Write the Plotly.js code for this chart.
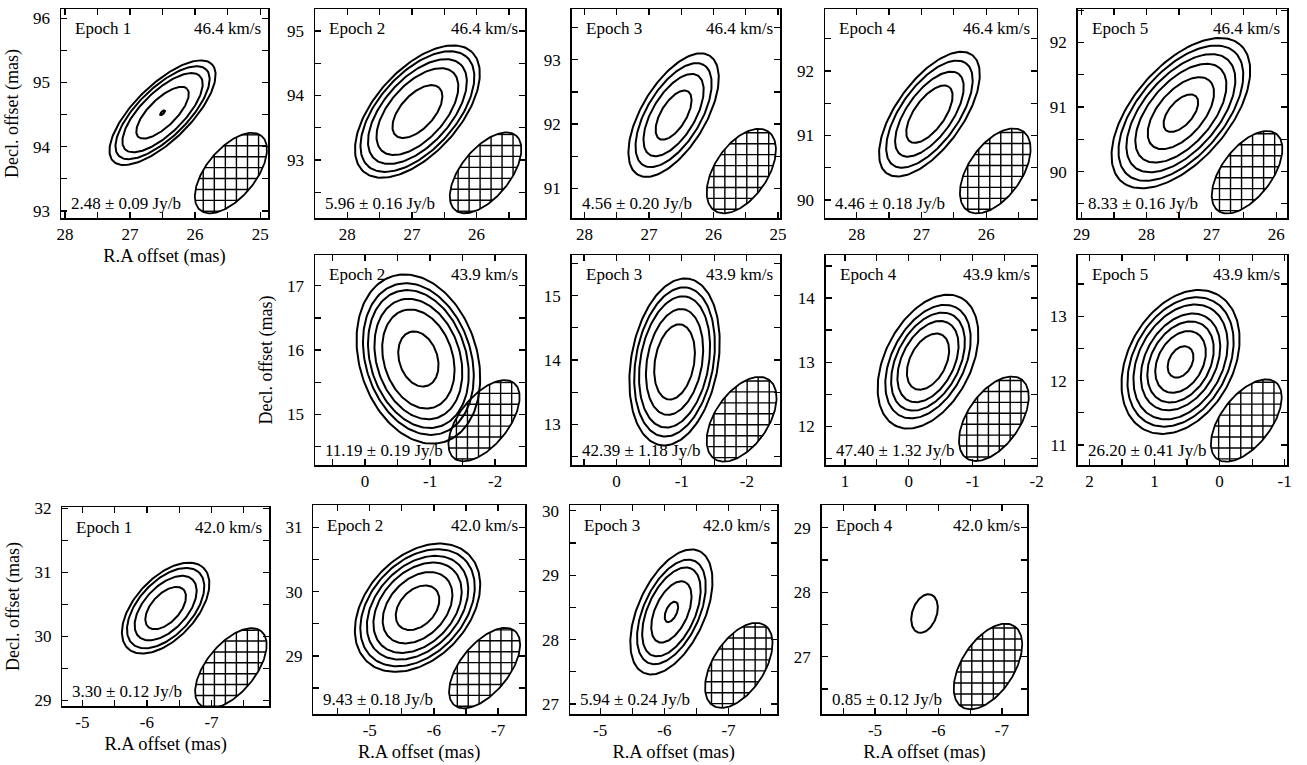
<!DOCTYPE html>
<html><head><meta charset="utf-8">
<script src="https://cdn.plot.ly/plotly-3.0.1.min.js"></script>
<style>html,body{margin:0;padding:0;background:#fff}#chart{width:1307px;height:765px}</style>
</head><body><div id="chart"></div>
<script>
// ---------------- data ----------------
const epochs     = [1, 2, 3, 4, 5,   2, 3, 4, 5,   1, 2, 3, 4];
const velocities = [46.4, 46.4, 46.4, 46.4, 46.4,  43.9, 43.9, 43.9, 43.9,  42.0, 42.0, 42.0, 42.0];
const peakFlux   = [2.48, 5.96, 4.56, 4.46, 8.33,  11.19, 42.39, 47.40, 26.20,  3.30, 9.43, 5.94, 0.85];
const peakErr    = [0.09, 0.16, 0.20, 0.18, 0.16,  0.19, 1.18, 1.32, 0.41,  0.12, 0.18, 0.24, 0.12];
// axis ranges (R.A. increases to the left)
const raRange  = [[28.06,24.88],[28.5,25.25],[28.2,24.97],[28.49,25.22],[29.06,25.83],
                  [0.77,-2.46],[0.69,-2.51],[1.30,-2.0],[2.18,-1.04],
                  [-4.69,-7.89],[-4.12,-7.42],[-4.53,-7.76],[-4.16,-7.40]];
const decRange = [[92.89,96.145],[92.10,95.34],[90.54,93.79],[89.72,92.96],[89.28,92.52],
                  [14.21,17.48],[12.37,15.63],[11.40,14.67],[10.69,13.95],
                  [28.91,32.02],[28.09,31.35],[26.84,30.09],[26.11,29.35]];
// maser spot: centre (mas), position angle of major axis (deg), axis ratio, contour semi-major axes (mas)
const srcRA    = [26.50, 26.915, 26.62, 26.877, 27.47,  -0.82, -0.89, -0.30, 0.60,  -6.29, -5.745, -6.11, -5.78];
const srcDec   = [94.53, 93.75, 92.14, 91.33, 90.905,  15.86, 13.97, 13.01, 12.29,  30.44, 29.75, 28.43, 27.67];
const srcPA    = [45, 48, 59, 54.5, 49.4,  107, 80.4, 62.7, 62,  47.6, 46.8, 65.5, 70];
const srcRatio = [0.40, 0.52, 0.46, 0.455, 0.525,  0.67, 0.51, 0.60, 0.68,  0.55, 0.69, 0.50, 0.62];
const contourMajor = [
  [1.07, 0.95, 0.81, 0.53, 0.05],
  [1.25, 1.14, 0.99, 0.82, 0.50],
  [1.08, 0.91, 0.72, 0.43],
  [1.13, 0.97, 0.77, 0.52],
  [1.40, 1.26, 1.10, 0.92, 0.67, 0.35],
  [1.35, 1.21, 1.10, 0.96, 0.79, 0.44],
  [1.31, 1.17, 1.03, 0.83, 0.59],
  [1.12, 0.95, 0.82, 0.68, 0.47],
  [1.19, 1.07, 0.95, 0.80, 0.67, 0.51, 0.26],
  [0.86, 0.76, 0.61, 0.40],
  [1.15, 1.05, 0.93, 0.81, 0.64, 0.40],
  [1.04, 0.87, 0.74, 0.51, 0.17],
  [0.31]
];
// synthesized beam
const beamRA    = [25.45, 25.86, 25.57, 25.86, 26.45,  -1.83, -1.92, -1.33, -0.41,  -7.30, -6.79, -7.16, -6.78];
const beamDec   = [93.59, 92.80, 91.27, 90.45, 89.99,  14.90, 13.08, 12.12, 11.38,  29.50, 28.81, 27.60, 26.85];
const beamMajor = [0.746, 0.746, 0.743, 0.75, 0.746,  0.746, 0.743, 0.75, 0.746,  0.746, 0.746, 0.743, 0.75];
const beamMinor = [0.378, 0.378, 0.41, 0.41, 0.385,  0.378, 0.41, 0.41, 0.385,  0.378, 0.378, 0.40, 0.41];
const beamPA    = [51, 51, 56, 55, 53,  52, 56, 55, 53,  51, 51, 57, 56];
const hatchStep = 0.17; // mas between hatch lines

// ---------------- layout geometry (pixels in the 1307x765 page) ----------------
const W = 1307, H = 765;
const boxes = [ // [left, top, right, bottom]
  [61, 9, 268, 218], [315, 9, 525, 218], [571.7, 9, 780, 218], [825, 9, 1036.7, 218], [1077.7, 9, 1287.3, 218],
  [315, 255, 525, 465], [571.7, 255, 780, 465], [825.7, 255, 1036.7, 465], [1077.7, 255, 1287.3, 465],
  [62.3, 507, 269, 706], [313.3, 505, 525, 714.3], [570, 505, 777.3, 714.3], [821.7, 505, 1027.3, 714.3]
];
const xTitleOn = [0, 9, 10, 11, 12];
const yTitleOn = [0, 5, 9];
const FONT = 'Liberation Serif, Times New Roman, Times, serif';

function ellipse(cx, cy, a, b, paDeg, n) {
  const p = paDeg * Math.PI / 180, xs = [], ys = [];
  for (let k = 0; k <= n; k++) {
    const t = 2 * Math.PI * k / n;
    const u = a * Math.cos(t) * Math.cos(p) - b * Math.sin(t) * Math.sin(p);
    const v = a * Math.cos(t) * Math.sin(p) + b * Math.sin(t) * Math.cos(p);
    xs.push(cx - u);  // screen-right is decreasing R.A.
    ys.push(cy + v);
  }
  return {x: xs, y: ys};
}
// cross-hatch segments clipped to the beam ellipse (u: screen-right, v: up)
function hatch(cx, cy, a, b, paDeg, step) {
  const p = paDeg * Math.PI / 180, c = Math.cos(p), s = Math.sin(p);
  const ia = 1 / (a * a), ib = 1 / (b * b);
  const Auu = c * c * ia + s * s * ib, Avv = s * s * ia + c * c * ib, Buv = 2 * c * s * (ia - ib);
  const xs = [], ys = [];
  const solve = (A, B, C) => { const d = B * B - 4 * A * C; if (d <= 0) return null; const r = Math.sqrt(d); return [(-B - r) / (2 * A), (-B + r) / (2 * A)]; };
  for (let k = -12; k <= 12; k++) {
    const q = (k + 0.5) * step;
    let r = solve(Avv, Buv * q, Auu * q * q - 1);          // vertical line u = q
    if (r) { xs.push(cx - q, cx - q, null); ys.push(cy + r[0], cy + r[1], null); }
    r = solve(Auu, Buv * q, Avv * q * q - 1);              // horizontal line v = q
    if (r) { xs.push(cx - r[0], cx - r[1], null); ys.push(cy + q, cy + q, null); }
  }
  return {x: xs, y: ys};
}

const traces = [], annotations = [];
const layout = {
  width: W, height: H, margin: {l: 0, r: 0, t: 0, b: 0},
  paper_bgcolor: '#fff', plot_bgcolor: '#fff', showlegend: false,
  font: {family: FONT, size: 17, color: '#000'}, annotations: annotations
};

for (let i = 0; i < epochs.length; i++) {
  const sfx = i === 0 ? '' : String(i + 1);
  const xid = 'x' + sfx, yid = 'y' + sfx;
  const [l, t, r, b] = boxes[i];
  const wpx = r - l, hpx = b - t;

  const mkTicks = rng => {
    const lo = Math.ceil(Math.min(rng[0], rng[1]) - 1e-9), hi = Math.floor(Math.max(rng[0], rng[1]) + 1e-9);
    const vals = [];
    for (let v = lo; v <= hi; v++) vals.push(v);
    return {vals: vals, text: vals.map(v => String(v))};
  };
  const xt = mkTicks(raRange[i]), yt = mkTicks(decRange[i]);
  const common = {
    showline: true, linecolor: '#000', linewidth: 1.5, mirror: 'allticks',
    ticks: 'inside', ticklen: 6, tickwidth: 1.3, tickcolor: '#000',
    showgrid: false, zeroline: false, fixedrange: true,
    tickfont: {family: FONT, size: 17, color: '#000'},
    minor: {dtick: 0.5, tick0: 0, ticks: 'inside', ticklen: 6, tickwidth: 1.3, tickcolor: '#000', showgrid: false}
  };
  layout['xaxis' + sfx] = Object.assign({}, common, {
    domain: [l / W, r / W], range: raRange[i], anchor: yid,
    tickmode: 'array', tickvals: xt.vals, ticktext: xt.text, ticklabelstandoff: 0,
    title: xTitleOn.includes(i) ? {text: 'R.A offset (mas)', font: {family: FONT, size: 18.5, color: '#000'}, standoff: 6} : {text: ''}
  });
  layout['yaxis' + sfx] = Object.assign({}, common, {
    domain: [1 - b / H, 1 - t / H], range: decRange[i], anchor: xid,
    tickmode: 'array', tickvals: yt.vals, ticktext: yt.text, ticklabelstandoff: 6,
    title: yTitleOn.includes(i) ? {text: 'Decl. offset (mas)', font: {family: FONT, size: 18, color: '#000'}, standoff: 10} : {text: ''}
  });

  // contours
  const cx = [], cy = [];
  contourMajor[i].forEach(a => {
    const e = ellipse(srcRA[i], srcDec[i], a, a * srcRatio[i], srcPA[i], 160);
    cx.push(...e.x, null); cy.push(...e.y, null);
  });
  traces.push({type: 'scatter', mode: 'lines', x: cx, y: cy, xaxis: xid, yaxis: yid,
    line: {color: '#000', width: 2}, hoverinfo: 'skip'});

  // beam: outline + cross-hatching
  const hh = hatch(beamRA[i], beamDec[i], beamMajor[i], beamMinor[i], beamPA[i], hatchStep);
  traces.push({type: 'scatter', mode: 'lines', x: hh.x, y: hh.y, xaxis: xid, yaxis: yid,
    line: {color: '#000', width: 1.4}, hoverinfo: 'skip'});
  const be = ellipse(beamRA[i], beamDec[i], beamMajor[i], beamMinor[i], beamPA[i], 160);
  traces.push({type: 'scatter', mode: 'lines', x: be.x, y: be.y, xaxis: xid, yaxis: yid,
    line: {color: '#000', width: 1.8}, hoverinfo: 'skip'});

  const dx = xid + ' domain', dy = yid + ' domain';
  annotations.push({xref: dx, yref: dy, x: 12 / wpx, y: 1 - 20 / hpx, xanchor: 'left', yanchor: 'middle',
    text: 'Epoch ' + epochs[i], showarrow: false, font: {family: FONT, size: 17, color: '#000'}});
  annotations.push({xref: dx, yref: dy, x: 1 - 5 / wpx, y: 1 - 20 / hpx, xanchor: 'right', yanchor: 'middle',
    text: velocities[i].toFixed(1) + ' km/s', showarrow: false, font: {family: FONT, size: 17, color: '#000'}});
  annotations.push({xref: dx, yref: dy, x: 8 / wpx, y: 15 / hpx, xanchor: 'left', yanchor: 'middle',
    text: peakFlux[i].toFixed(2) + ' \u00b1 ' + peakErr[i].toFixed(2) + ' Jy/b', showarrow: false,
    font: {family: FONT, size: 17, color: '#000'}});
}

Plotly.newPlot('chart', traces, layout, {staticPlot: true, displayModeBar: false});
</script>
</body></html>
